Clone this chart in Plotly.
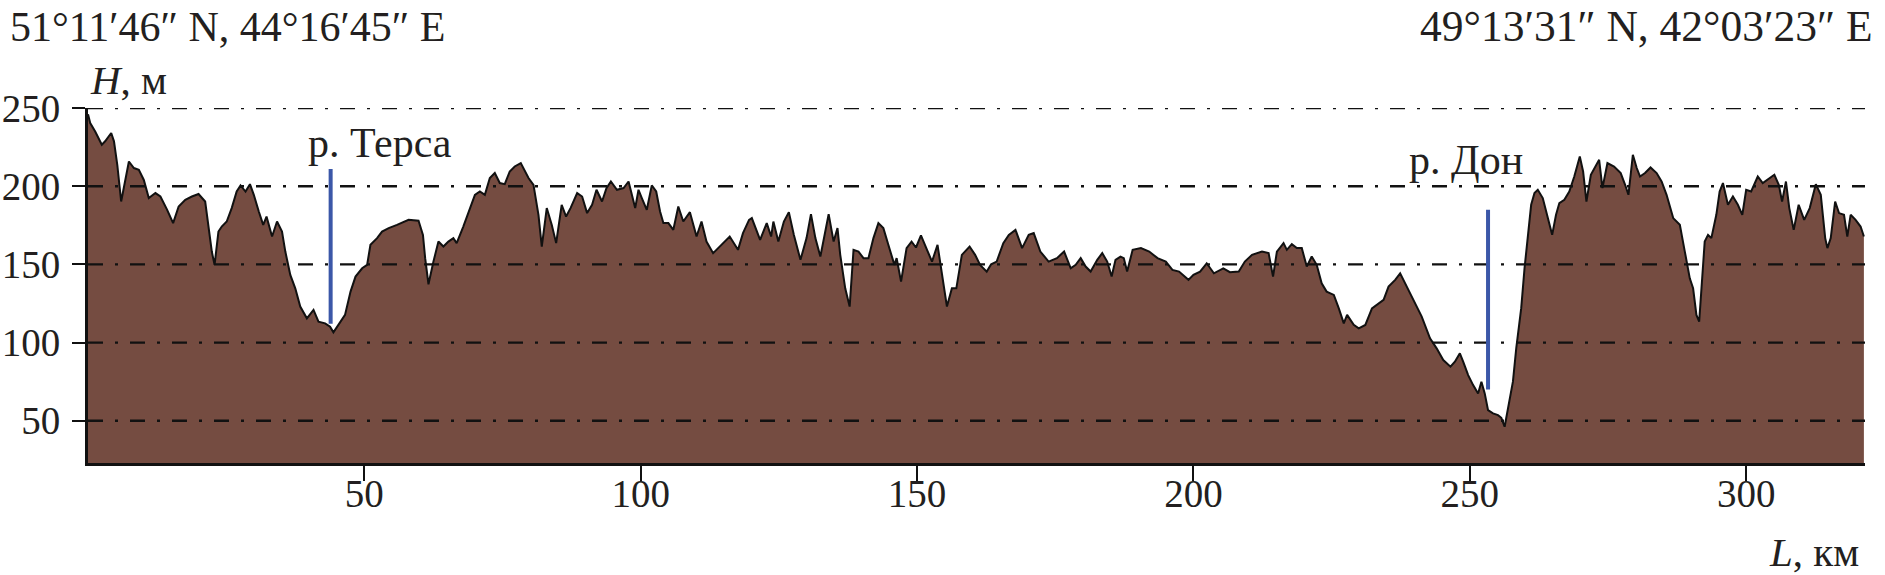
import plotly.graph_objects as go

# ---- data ----
distance_km = [0, 0.4, 1.3, 2.5, 3.1, 4.2, 4.7, 5.3, 6.0, 6.5, 7.4, 8.3, 9.2, 10.1, 11.0, 12.2, 13.1, 14.3,
               15.4, 16.4, 17.6, 18.8, 20.0, 21.2, 21.8, 22.4, 22.9, 23.6, 24.2, 25.1, 26.0, 26.9, 27.6,
               28.5, 29.3, 30.0, 30.9, 31.7, 32.3, 33.3, 34.2, 35.1, 35.7, 36.6, 37.5, 38.4, 39.6, 40.8,
               41.7, 42.9, 43.8, 44.4, 45.3, 46.5, 47.5, 48.4, 49.6, 50.5, 51.1, 52.3, 53.2, 54.4, 55.9,
               58.0, 59.8, 60.6, 61.0, 61.6, 62.5, 63.4, 64.3, 65.2, 66.1, 66.7, 67.9, 69.1, 70.0, 70.9,
               71.8, 72.7, 73.6, 74.5, 75.4, 76.3, 77.2, 78.3, 78.8, 79.7, 80.6, 81.5, 82.1, 83.0, 83.9,
               84.7, 85.7, 86.5, 87.3, 88.5, 89.4, 90.3, 91.2, 92.0, 93.0, 93.8, 94.6, 95.7, 96.9, 97.8,
               99.0, 99.6, 100.2, 101.1, 102.0, 102.8, 103.5, 104.1, 105.0, 105.9, 106.8, 107.7, 108.9,
               110.1, 111.0, 111.9, 113.1, 114.3, 116.1, 117.6, 118.5, 119.6, 120.1, 121.6, 122.8, 123.6,
               124.0, 124.9, 125.9, 126.8, 127.7, 128.9, 130.0, 130.8, 131.6, 132.5, 134.0, 134.9, 135.6,
               136.1, 137.0, 137.8, 138.5, 139.4, 140.3, 141.2, 142.1, 143.0, 143.9, 144.8, 145.9, 146.3,
               147.1, 148.1, 149.0, 149.8, 150.7, 151.8, 152.7, 153.7, 154.5, 155.4, 156.3, 157.1, 158.1,
               159.5, 160.5, 161.4, 162.6, 163.4, 164.4, 165.6, 166.6, 167.8, 169.0, 170.2, 171.1, 172.3,
               173.8, 175.3, 176.6, 177.8, 178.7, 179.6, 180.5, 181.4, 182.6, 183.5, 184.4, 185.2, 185.9,
               186.8, 187.4, 188.0, 189.0, 190.5, 192.0, 193.5, 195.0, 196.2, 197.4, 199.1, 200.0, 201.2,
               202.4, 203.7, 205.4, 206.6, 208.2, 209.3, 210.6, 212.4, 213.6, 214.4, 215.1, 216.3, 216.9,
               217.8, 218.7, 219.6, 220.5, 221.4, 222.3, 223.2, 224.1, 225.4, 226.3, 227.2, 227.8, 229.0,
               229.9, 231.1, 232.3, 233.2, 234.4, 235.3, 236.5, 237.4, 238.3, 239.2, 239.8, 241.3, 242.8,
               244.0, 245.2, 246.5, 247.3, 248.2, 248.8, 249.7, 250.6, 251.5, 252.1, 252.7, 253.3, 254.2,
               255.1, 255.7, 256.3, 256.9, 257.8, 258.4, 259.3, 259.9, 260.5, 261.1, 261.7, 262.3, 263.2,
               264.1, 264.9, 265.6, 266.2, 267.1, 268.0, 268.9, 269.9, 270.5, 271.1, 271.9, 272.8, 273.4,
               274.0, 274.9, 276.1, 277.3, 278.1, 278.7, 279.5, 280.2, 280.8, 281.7, 282.7, 283.8, 284.7,
               285.6, 286.8, 288.0, 288.9, 289.8, 290.4, 291.0, 291.5, 291.9, 292.5, 293.1, 293.7, 294.6,
               295.2, 295.8, 296.7, 297.6, 298.5, 299.3, 300.0, 300.9, 302.1, 303.0, 303.9, 305.1, 305.9,
               306.5, 307.2, 307.8, 308.6, 309.5, 310.5, 311.5, 312.6, 313.5, 314.3, 314.7, 315.3, 316.1,
               316.8, 317.7, 318.3, 318.9, 319.8, 320.7, 321.3]

elevation_m = [246, 240.4, 235, 226.5, 228.7, 234, 228.7, 213.7, 190.2, 198.8, 215.8, 211.6, 210.5, 204, 192.4,
               195.6, 193.4, 185, 176.4, 187, 191.3, 193.4, 195, 190.2, 175.3, 158.2, 149.7, 171, 174.2,
               177.4, 186, 196.6, 200.5, 196.6, 201.3, 194.5, 183.8, 175.3, 180.6, 167.8, 177.4, 171, 158.2,
               143.3, 134.7, 123, 115.5, 120.9, 113.4, 112.3, 110.2, 106.6, 111.3, 117.7, 132.6, 142.2,
               147.5, 149.7, 162.5, 166.8, 171, 173.2, 175.3, 178.5, 177.9, 168.9, 154, 137.3, 151.8, 164.6,
               161.4, 164.6, 166.8, 163.6, 174.2, 186, 194.5, 196.6, 194.5, 205.2, 208.4, 202, 201.3, 209.4,
               212.6, 214.8, 211.6, 205.2, 200.9, 181.7, 161.4, 186, 175.3, 163.6, 188.1, 180.6, 186, 195.6,
               193.4, 182.8, 188.1, 197.7, 190.2, 198.8, 203, 197.7, 198.8, 203, 186, 197.7, 192.4, 184.9,
               200.5, 196.6, 183.8, 176.4, 176.4, 172.1, 187, 177.4, 183.4, 167.8, 177.4, 164.6, 157.2, 161.4,
               167.8, 159.3, 170, 178.5, 179.6, 165.7, 176.4, 167.8, 177.4, 164.6, 177.4, 183.4, 168.9, 152.9,
               166.8, 182.1, 166.8, 155, 182.1, 164.6, 173.2, 156.1, 134.7, 123, 159.3, 158.2, 154, 154, 166.8,
               176.4, 173.2, 162.5, 149.7, 154, 139, 160.4, 164.6, 160.8, 168.5, 159.3, 151.8, 162.5, 143.3,
               123, 134.7, 134.7, 156.1, 161.4, 156.1, 149.7, 145.4, 150.1, 151.8, 163.6, 168.9, 172.1, 160.4,
               168.9, 170, 158.2, 151.8, 154, 158.2, 147.5, 149.7, 154, 148.6, 145.4, 152.9, 157.2, 151.8,
               142.2, 152.9, 155, 154, 145.4, 159.3, 160.4, 158.2, 154, 151.8, 146.5, 145.4, 140.1, 143.3,
               145.4, 150.7, 144.3, 147.5, 145, 145.4, 151.8, 156.1, 158.2, 157.2, 142.2, 158.2, 163.6, 159.3,
               162.9, 160.4, 160.4, 148.6, 155, 149.7, 137.9, 132.6, 130.5, 121.9, 112.3, 117.7, 111.3, 109.1,
               111.3, 121.9, 124.1, 127.3, 135.8, 140.1, 144.3, 137.9, 131.5, 127.3, 116.6, 102.7, 96.3, 88.8,
               84.6, 87.8, 93.1, 87.8, 79.2, 72.8, 67.5, 75, 67.5, 56.8, 54.7, 53.6, 51.9, 46.2, 56.8, 75,
               96.3, 122, 147.5, 168.9, 188.1, 195.6, 197.7, 192.4, 179.6, 168.9, 181.7, 189.2, 191.3, 196.6,
               206.2, 219, 209.4, 190.2, 207.3, 213.7, 216.9, 198.8, 214.8, 212.6, 208.4, 200.9, 194.5, 220.1,
               211.6, 206.2, 208.4, 212, 208.4, 203, 194.5, 179.6, 175.3, 158.2, 141.1, 134.7, 117.7, 113.4,
               132.6, 164.6, 168.9, 166.8, 181.7, 196.6, 202, 188.1, 193.4, 188.1, 181.7, 197.7, 196.6, 206.2,
               202, 204.1, 207.3, 200.9, 190.2, 203, 186, 172.1, 188.1, 178.5, 186, 201.3, 194.5, 166.8, 160.4,
               166.8, 190.2, 182.8, 181.7, 167.8, 181.7, 178.5, 174.2, 167.8]

grid_levels = [50, 100, 150, 200, 250]
x_ticks = [50, 100, 150, 200, 250, 300]
x_range = [0, 321.5]
y_range = [23, 250]

river_names = ["р. Терса", "р. Дон"]
river_km = [43.9, 253.3]
river_bottom_m = [112, 70]
river_top_m = [211, 185]
label_km = [52.9, 249.3]
label_m = [227.5, 216.5]

corner_left = "51°11′46″ N, 44°16′45″ E"
corner_right = "49°13′31″ N, 42°03′23″ E"

FONT = "Liberation Serif"
INK = "#231f20"

fig = go.Figure()

fig.add_trace(go.Scatter(
    x=distance_km, y=elevation_m, mode="lines", fill="tozeroy",
    fillcolor="#754c41", line=dict(color="#111111", width=2), hoverinfo="x+y",
    showlegend=False))

for g in grid_levels:
    fig.add_trace(go.Scatter(
        x=x_range, y=[g, g], mode="lines",
        line=dict(color="#111111", width=2.4, dash="15px,12px,3px,12px"),
        hoverinfo="skip", showlegend=False))

for i in range(len(river_names)):
    fig.add_trace(go.Scatter(
        x=[river_km[i], river_km[i]], y=[river_bottom_m[i], river_top_m[i]],
        mode="lines", line=dict(color="#3b57a8", width=4),
        hoverinfo="skip", showlegend=False))
    fig.add_annotation(x=label_km[i], y=label_m[i], text=river_names[i],
                       showarrow=False, font=dict(family=FONT, size=42, color=INK))

fig.add_annotation(xref="paper", yref="paper", x=0, y=1, xanchor="left", yanchor="bottom",
                   yshift=3, text="<i>H</i>, м", showarrow=False,
                   font=dict(family=FONT, size=41, color=INK))
fig.add_annotation(xref="paper", yref="paper", x=0.998, y=0, xanchor="right", yanchor="top",
                   yshift=-64, text="<i>L</i>, км", showarrow=False,
                   font=dict(family=FONT, size=41, color=INK))
fig.add_annotation(xref="paper", yref="paper", x=-0.0453, y=1, xanchor="left", yanchor="bottom",
                   yshift=56, text=corner_left, showarrow=False,
                   font=dict(family=FONT, size=42, color=INK))
fig.add_annotation(xref="paper", yref="paper", x=1.0056, y=1, xanchor="right", yanchor="bottom",
                   yshift=56, text=corner_right, showarrow=False,
                   font=dict(family=FONT, size=43.5, color=INK))

fig.update_layout(
    width=1885, height=575,
    margin=dict(l=88, r=20, t=108, b=112, autoexpand=False),
    paper_bgcolor="white", plot_bgcolor="white",
    font=dict(family=FONT, size=39, color=INK),
    xaxis=dict(range=x_range, tickvals=x_ticks, ticks="outside", ticklen=15, tickwidth=2,
               tickcolor="#111111", showline=True, linecolor="#111111", linewidth=3,
               showgrid=False, zeroline=False, tickfont=dict(family=FONT, size=39, color=INK),
               ticklabelstandoff=-21, layer="above traces", automargin=False),
    yaxis=dict(range=y_range, tickvals=grid_levels, ticks="outside", ticklen=13, tickwidth=2,
               tickcolor="#111111", showline=True, linecolor="#111111", linewidth=3,
               showgrid=False, zeroline=False, tickfont=dict(family=FONT, size=39, color=INK),
               ticklabelstandoff=4, layer="above traces", automargin=False),
)

# remove the default 8 px page margin so the figure sits at the window's top-left corner
fig.write_html("out.html",
               config={"displayModeBar": False},
               post_script="document.body.style.margin='0';document.body.style.padding='0';"
                           "document.body.style.overflow='hidden';")
